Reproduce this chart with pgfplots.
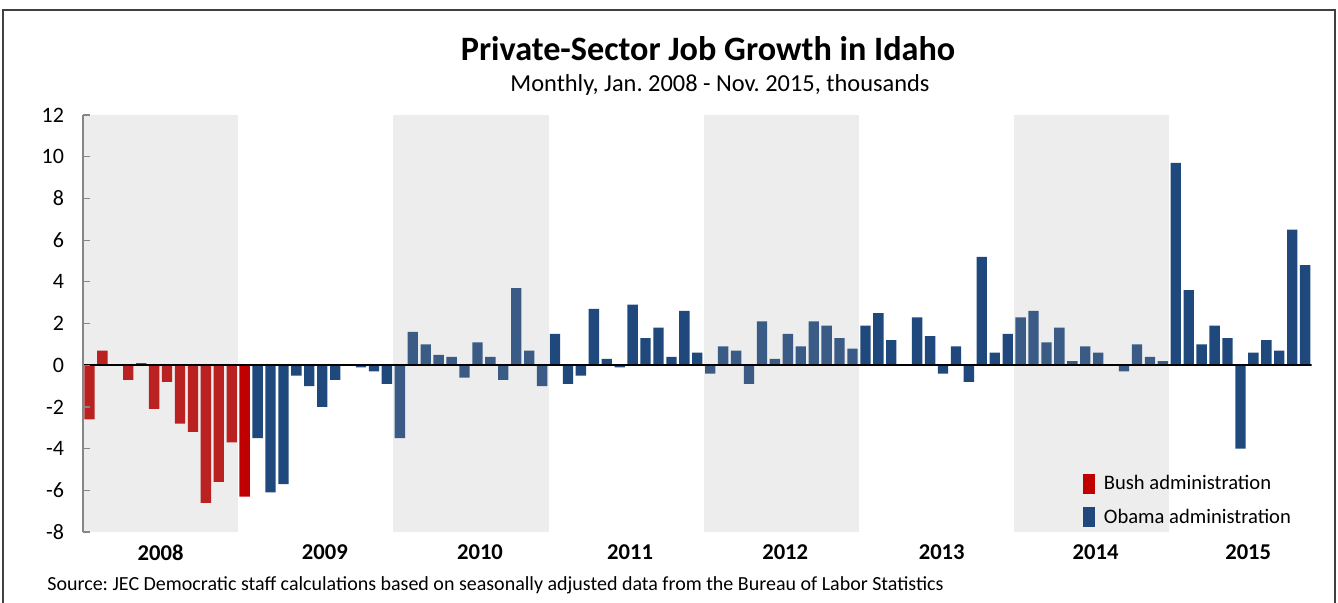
\documentclass[border=0pt]{standalone}
\usepackage{fontspec}
\setmainfont{Carlito}
\usepackage{pgfplots}
\pgfplotsset{compat=1.18}
\definecolor{bush}{HTML}{C00000}
\definecolor{obama}{HTML}{1F497D}
\definecolor{shadeg}{RGB}{165,165,165}
\definecolor{axgray}{HTML}{868686}
\frenchspacing

\begin{document}
\begin{tikzpicture}
\useasboundingbox (-41.5pt,-35pt) rectangle (627.5pt,266pt);
% outer frame (bottom edge lies below the picture)
\draw[line width=0.8pt, black!75] (-40pt,-40pt) -- (-40pt,261pt) -- (626pt,261pt) -- (626pt,-40pt);

\node[font=\fontsize{17.1}{20}\selectfont\bfseries] at (312.5pt,241.5pt) {Private-Sector Job Growth in Idaho};
\node[font=\fontsize{12.2}{14}\selectfont] at (318.5pt,223.5pt) {Monthly, Jan. 2008 - Nov. 2015, thousands};
\node[font=\fontsize{10}{12}\selectfont, anchor=west, inner sep=0pt] at (-18pt,-26.5pt)
  {Source: JEC Democratic staff calculations based on seasonally adjusted data from the Bureau of Labor Statistics};

\begin{axis}[
  at={(0pt,0pt)}, anchor=south west,
  scale only axis, width=614.3pt, height=208.5pt,
  xmin=-0.5, xmax=94.5, ymin=-8, ymax=12,
  ybar, bar width=0.8,
  axis on top,
  axis x line*=bottom, axis y line*=left,
  x axis line style={draw=none},
  y axis line style={draw=axgray, line width=0.75pt},
  ytick={-8,-6,...,12},
  yticklabels={-8,-6,-4,-2,0,2,4,6,8,10,12},
  yticklabel style={font=\fontsize{11}{13}\selectfont, xshift=-6pt},
  tick align=inside,
  major tick length=3.5pt,
  ytick style={draw=axgray, line width=0.6pt},
  xtick={5.5,18.2,30.2,41.8,53.8,65.9,77.8,89.6},
  xticklabels={2008,2009,2010,2011,2012,2013,2014,2015},
  xticklabel style={font=\fontsize{11.3}{13}\selectfont\bfseries, yshift=-3pt},
  xtick style={draw=none},
  legend image code/.code={\fill[#1] (0pt,-5pt) rectangle (6pt,5pt); \path (8.5pt,0pt);},
  legend style={at={(axis description cs:0.8135,0.146)}, anchor=north west,
    draw=none, fill=none, inner sep=0pt, row sep=4pt,
    font=\fontsize{10.3}{12}\selectfont},
  legend cell align=left,
]
% Bush administration: Jan 2008 - Jan 2009
\addplot[fill=bush, draw=none, bar shift=0pt] coordinates {
  (0,-2.6) (1,0.7) (2,0) (3,-0.7) (4,0.1) (5,-2.1) (6,-0.8) (7,-2.8)
  (8,-3.2) (9,-6.6) (10,-5.6) (11,-3.7) (12,-6.3)
};
\addlegendentry{Bush administration}
% Obama administration: Feb 2009 - Nov 2015
\addplot[fill=obama, draw=none, bar shift=0pt] coordinates {
  (13,-3.5) (14,-6.1) (15,-5.7) (16,-0.5) (17,-1.0) (18,-2.0) (19,-0.7)
  (20,0) (21,-0.1) (22,-0.3) (23,-0.9)
  (24,-3.5) (25,1.6) (26,1.0) (27,0.5) (28,0.4) (29,-0.6) (30,1.1)
  (31,0.4) (32,-0.7) (33,3.7) (34,0.7) (35,-1.0)
  (36,1.5) (37,-0.9) (38,-0.5) (39,2.7) (40,0.3) (41,-0.1) (42,2.9)
  (43,1.3) (44,1.8) (45,0.4) (46,2.6) (47,0.6)
  (48,-0.4) (49,0.9) (50,0.7) (51,-0.9) (52,2.1) (53,0.3) (54,1.5)
  (55,0.9) (56,2.1) (57,1.9) (58,1.3) (59,0.8)
  (60,1.9) (61,2.5) (62,1.2) (63,0) (64,2.3) (65,1.4) (66,-0.4)
  (67,0.9) (68,-0.8) (69,5.2) (70,0.6) (71,1.5)
  (72,2.3) (73,2.6) (74,1.1) (75,1.8) (76,0.2) (77,0.9) (78,0.6)
  (79,0) (80,-0.3) (81,1.0) (82,0.4) (83,0.2)
  (84,9.7) (85,3.6) (86,1.0) (87,1.9) (88,1.3) (89,-4.0) (90,0.6)
  (91,1.2) (92,0.7) (93,6.5) (94,4.8)
};
\addlegendentry{Obama administration}
% alternate-year shading, laid over the bars
\fill[shadeg, opacity=0.2] (axis cs:-0.5,-8) rectangle (axis cs:11.5,12);
\fill[shadeg, opacity=0.2] (axis cs:23.5,-8) rectangle (axis cs:35.5,12);
\fill[shadeg, opacity=0.2] (axis cs:47.5,-8) rectangle (axis cs:59.5,12);
\fill[shadeg, opacity=0.2] (axis cs:71.5,-8) rectangle (axis cs:83.5,12);
\draw[black, line width=0.75pt] (axis cs:-0.5,0) -- (axis cs:94.5,0);
\end{axis}
\end{tikzpicture}
\end{document}
